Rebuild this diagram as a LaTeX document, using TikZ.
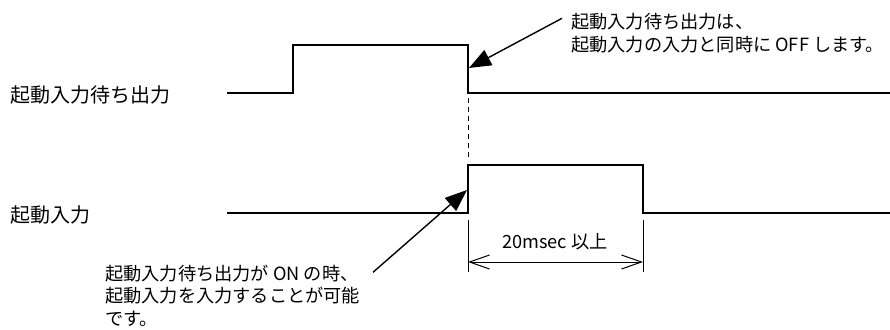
\documentclass[tikz,border=0pt]{standalone}
\usepackage{fontspec}
\setmainfont{Noto Sans CJK JP}
\usetikzlibrary{arrows.meta,positioning}

\begin{document}
\begin{tikzpicture}[
      x=1pt, y=-1pt,
      every node/.style={inner sep=0pt, align=left, font=\fontsize{18.2}{22.5}\selectfont},
      siglabel/.style={anchor=west, font=\fontsize{20}{24}\selectfont},
      signal/.style={line width=2pt},
      callout/.style={-{Triangle[length=22pt,width=17pt]}, line width=1.4pt},
      dimline/.style={{Straight Barb[length=20pt,width=14pt]}-{Straight Barb[length=20pt,width=14pt]}, line width=1pt}
    ]
      \useasboundingbox (0,0) rectangle (890,329);

      % signal names
      \node[siglabel] (waitlbl) at (10,95) {起動入力待ち出力};
      \node[siglabel] (startlbl) at (10,215) {起動入力};

      % waveforms
      \coordinate (waitbeg) at (227,93);
      \coordinate (waitrise) at (293,45);
      \coordinate (waitfall) at (468,93);
      \coordinate (waitend) at (890,93);
      \coordinate (startbeg) at (227,213);
      \coordinate (startrise) at (468,165);
      \coordinate (startfall) at (643,213);
      \coordinate (startend) at (890,213);

      \draw[signal] (waitbeg) -| (waitrise) -| (waitfall) -- (waitend);
      \draw[signal] (startbeg) -| (startrise) -| (startfall) -- (startend);
      \draw[dash pattern=on 5pt off 4pt, line width=.8pt] (468,98) -- (468,161);

      % 20msec
      \coordinate (dimA) at (468,220);
      \coordinate (dimB) at (643,220);
      \draw[line width=1pt] (dimA) -- ++(0,52);
      \draw[line width=1pt] (dimB) -- ++(0,52);
      \draw[dimline] ([yshift=-42pt]dimA) -- ([yshift=-42pt]dimB);
      \node (minlen) at (555,242) {20msec 以上};

      % notes
      \node[anchor=north west] (offnote) at (571,13.3) {起動入力待ち出力は、\\起動入力の入力と同時に OFF します。};
      \node[anchor=north west] (onnote) at (105,264.8) {起動入力待ち出力が ON の時、\\起動入力を入力することが可能\\です。};

      \coordinate (offtip) at (469,68);
      \coordinate (ontip) at (467,190);
      \draw[callout] ([xshift=-9pt,yshift=-5pt]offnote.north west) -- (offtip);
      \draw[callout] ([xshift=268pt,yshift=-7.5pt]onnote.north west) -- (ontip);
    \end{tikzpicture}
\end{document}
